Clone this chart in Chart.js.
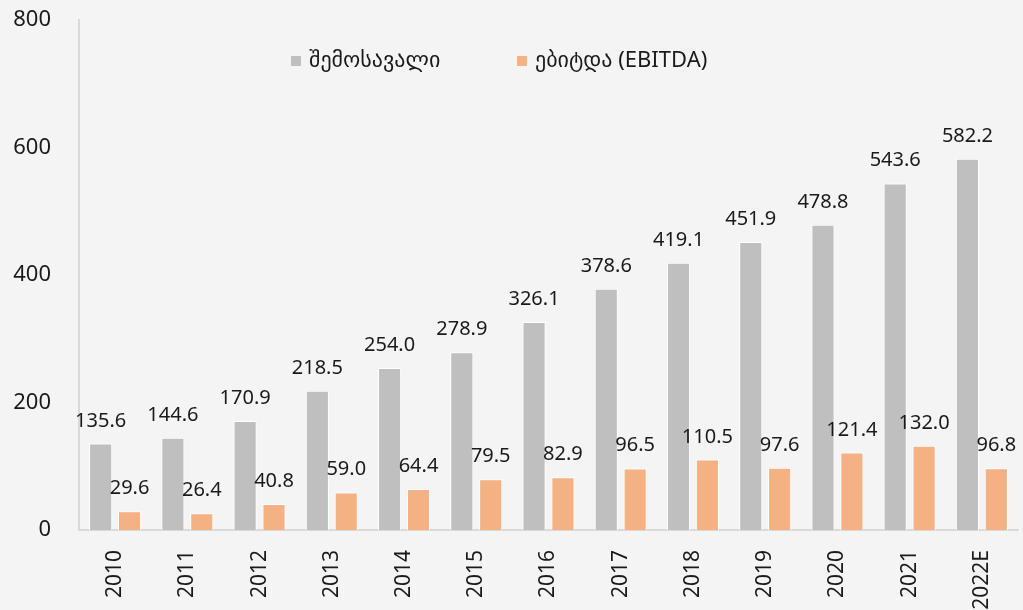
<!DOCTYPE html>
<html>
<head>
<meta charset="utf-8">
<script src="https://cdn.jsdelivr.net/npm/chart.js@4"></script>
<style>
  html, body { margin: 0; padding: 0; background: #f4f4f4; }
  #wrap { width: 1023px; height: 610px; position: relative; }
</style>
</head>
<body>
<div id="wrap"><canvas id="revenueChart"></canvas></div>
<script>
const years = ["2010", "2011", "2012", "2013", "2014", "2015", "2016", "2017", "2018", "2019", "2020", "2021", "2022E"];
const revenue = [135.6, 144.6, 170.9, 218.5, 254.0, 278.9, 326.1, 378.6, 419.1, 451.9, 478.8, 543.6, 582.2];
const ebitda = [29.6, 26.4, 40.8, 59.0, 64.4, 79.5, 82.9, 96.5, 110.5, 97.6, 121.4, 132.0, 96.8];
const yTicks = [0, 200, 400, 600, 800];

const fontFamily = "'Noto Sans', 'DejaVu Sans', sans-serif";

// value labels above each bar
const valueLabels = {
  id: "valueLabels",
  afterDatasetsDraw(chart) {
    const ctx = chart.ctx;
    ctx.save();
    ctx.font = "20px " + fontFamily;
    ctx.fillStyle = "#1a1a1a";
    ctx.textAlign = "center";
    ctx.textBaseline = "alphabetic";
    chart.data.datasets.forEach((ds, i) => {
      chart.getDatasetMeta(i).data.forEach((bar, j) => {
        ctx.fillText(ds.data[j].toFixed(1), bar.x, bar.y - 17);
      });
    });
    ctx.restore();
  }
};

// legend drawn inside the plot area
const innerLegend = {
  id: "innerLegend",
  afterDraw(chart) {
    const ctx = chart.ctx;
    const xs = [291, 517];
    const y = 61;
    ctx.save();
    ctx.font = "22px " + fontFamily;
    ctx.textBaseline = "middle";
    ctx.textAlign = "left";
    chart.data.datasets.forEach((ds, i) => {
      ctx.fillStyle = ds.backgroundColor;
      ctx.fillRect(xs[i], y - 5, 10, 10);
      ctx.fillStyle = "#1a1a1a";
      ctx.fillText(ds.label, xs[i] + 18, y);
    });
    ctx.restore();
  }
};

new Chart(document.getElementById("revenueChart"), {
  type: "bar",
  data: {
    labels: years,
    datasets: [
      {
        label: "შემოსავალი",
        data: revenue,
        backgroundColor: "#bfbfbf",
        borderColor: "#ffffff",
        borderWidth: 1
      },
      {
        label: "ებიტდა (EBITDA)",
        data: ebitda,
        backgroundColor: "#f4b183",
        borderColor: "#ffffff",
        borderWidth: 1
      }
    ]
  },
  options: {
    responsive: true,
    maintainAspectRatio: false,
    animation: false,
    layout: { padding: { top: 20, right: 5, left: 0, bottom: 0 } },
    datasets: { bar: { categoryPercentage: 0.8, barPercentage: 0.8 } },
    plugins: {
      legend: { display: false },
      tooltip: { enabled: false }
    },
    scales: {
      x: {
        grid: { display: false },
        border: { display: true, color: "#d9d9d9", width: 2 },
        ticks: {
          color: "#1a1a1a",
          font: { family: fontFamily, size: 21 },
          maxRotation: 90,
          minRotation: 90,
          padding: 12
        },
        afterFit(scale) {
          scale.height = 80;
          scale.paddingTop = 0;
          scale.paddingRight = 0;
        }
      },
      y: {
        min: 0,
        max: 800,
        afterBuildTicks(scale) {
          scale.ticks = yTicks.map(v => ({ value: v }));
        },
        grid: { display: false },
        border: { display: true, color: "#d9d9d9", width: 2 },
        ticks: {
          color: "#1a1a1a",
          font: { family: fontFamily, size: 22 },
          padding: 20
        },
        afterFit(scale) {
          scale.width = 79;
          scale.paddingTop = 0;
          scale.paddingBottom = 0;
        }
      }
    }
  },
  plugins: [valueLabels, innerLegend]
});
</script>
</body>
</html>
